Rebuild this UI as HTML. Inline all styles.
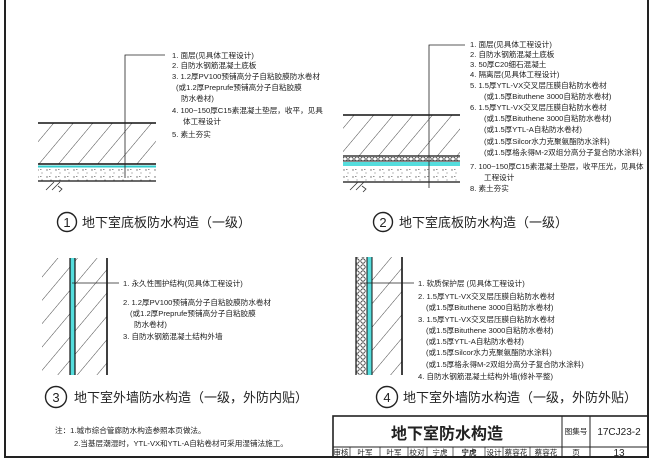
<!DOCTYPE html>
<html><head><meta charset="utf-8">
<style>
html,body{margin:0;padding:0;background:#fff;}
svg{display:block;}
text{font-family:"Liberation Sans","Noto Sans CJK SC",sans-serif;fill:#222;}
.s{font-size:7.6px;}
.t{font-size:13px;font-weight:normal;}
</style></head><body>
<svg width="654" height="465" viewBox="0 0 654 465" xmlns="http://www.w3.org/2000/svg">
<defs>
<pattern id="hatch" width="15" height="15" patternUnits="userSpaceOnUse" patternTransform="rotate(40)">
<line x1="0" y1="0" x2="0" y2="15" stroke="#333" stroke-width="0.9"/>
</pattern>
<pattern id="dots" width="9" height="7" patternUnits="userSpaceOnUse">
<circle cx="2" cy="2" r="0.7" fill="#666"/><circle cx="6" cy="5" r="0.6" fill="#888"/><rect x="4" y="1" width="1.5" height="0.8" fill="#777"/>
</pattern>
<pattern id="circ" width="6" height="6" patternUnits="userSpaceOnUse">
<circle cx="3" cy="3" r="2.2" fill="none" stroke="#333" stroke-width="0.8"/>
</pattern>
</defs>
<rect x="5" y="-2" width="643" height="459" fill="none" stroke="#222" stroke-width="2"/>

<!-- Diagram 1 -->
<rect x="38" y="123" width="118" height="41" fill="url(#hatch)"/>
<rect x="38" y="166" width="118" height="15" fill="url(#dots)"/>
<line x1="38" y1="123" x2="156" y2="123" stroke="#111" stroke-width="1.6"/>
<line x1="38" y1="164" x2="156" y2="164" stroke="#111" stroke-width="1.6"/>
<line x1="38" y1="166.5" x2="156" y2="166.5" stroke="#3cc" stroke-width="2"/>
<line x1="38" y1="181" x2="156" y2="181" stroke="#111" stroke-width="1.2"/>
<path d="M46 190 l8 -8 M52 190 l8 -8 M58 186 l4 3 l-3 3" stroke="#333" fill="none" stroke-width="0.8"/>
<polyline points="125,178 125,55 165,55" fill="none" stroke="#222" stroke-width="0.8"/>
<text class="s" x="172" y="58">1. 面层(见具体工程设计)</text>
<text class="s" x="172" y="68">2. 自防水钢筋混凝土底板</text>
<text class="s" x="172" y="79">3. 1.2厚PV100预铺高分子自粘胶膜防水卷材</text>
<text class="s" x="176" y="90">(或1.2厚Preprufe预铺高分子自粘胶膜</text>
<text class="s" x="181" y="101">防水卷材)</text>
<text class="s" x="172" y="113">4. 100~150厚C15素混凝土垫层，收平，见具</text>
<text class="s" x="183" y="124">体工程设计</text>
<text class="s" x="172" y="137">5. 素土夯实</text>
<circle cx="67" cy="222" r="9.5" fill="none" stroke="#222" stroke-width="1.4"/>
<text x="67" y="227" font-size="13" text-anchor="middle">1</text>
<text class="t" x="82" y="227">地下室底板防水构造（一级）</text>

<!-- Diagram 2 -->
<rect x="343" y="115" width="117" height="41" fill="url(#hatch)"/>
<rect x="343" y="157" width="117" height="4" fill="url(#circ)"/>
<rect x="343" y="162" width="117" height="4" fill="#5dd"/>
<rect x="343" y="167" width="117" height="15" fill="url(#dots)"/>
<line x1="343" y1="115" x2="460" y2="115" stroke="#111" stroke-width="1.6"/>
<line x1="343" y1="156" x2="460" y2="156" stroke="#111" stroke-width="1.3"/>
<line x1="343" y1="161" x2="460" y2="161" stroke="#111" stroke-width="1"/>
<line x1="343" y1="182" x2="460" y2="182" stroke="#111" stroke-width="1.2"/>
<path d="M350 190 l8 -8 M356 190 l8 -8 M362 186 l4 3 l-3 3" stroke="#333" fill="none" stroke-width="0.8"/>
<polyline points="429,188 429,45 465,45" fill="none" stroke="#222" stroke-width="0.8"/>
<text class="s" x="470" y="47">1. 面层(见具体工程设计)</text>
<text class="s" x="470" y="57">2. 自防水钢筋混凝土底板</text>
<text class="s" x="470" y="67">3. 50厚C20细石混凝土</text>
<text class="s" x="470" y="77">4. 隔离层(见具体工程设计)</text>
<text class="s" x="470" y="88">5. 1.5厚YTL-VX交叉层压膜自粘防水卷材</text>
<text class="s" x="484" y="99">(或1.5厚Bituthene 3000自粘防水卷材)</text>
<text class="s" x="470" y="110">6. 1.5厚YTL-VX交叉层压膜自粘防水卷材</text>
<text class="s" x="484" y="121">(或1.5厚Bituthene 3000自粘防水卷材)</text>
<text class="s" x="484" y="132">(或1.5厚YTL-A自粘防水卷材)</text>
<text class="s" x="484" y="144">(或1.5厚Silcor水力克聚氨酯防水涂料)</text>
<text class="s" x="484" y="155">(或1.5厚格永得M-2双组分高分子复合防水涂料)</text>
<text class="s" x="470" y="169">7. 100~150厚C15素混凝土垫层，收平压光，见具体</text>
<text class="s" x="484" y="180">工程设计</text>
<text class="s" x="470" y="191">8. 素土夯实</text>
<circle cx="383" cy="222" r="9.5" fill="none" stroke="#222" stroke-width="1.4"/>
<text x="383" y="227" font-size="13" text-anchor="middle">2</text>
<text class="t" x="399" y="227">地下室底板防水构造（一级）</text>

<!-- Diagram 3 -->
<rect x="42" y="258" width="28" height="117" fill="url(#hatch)"/>
<rect x="75" y="258" width="32" height="117" fill="url(#hatch)"/>
<rect x="70" y="258" width="5" height="117" fill="#5dd"/>
<line x1="70" y1="258" x2="70" y2="375" stroke="#111" stroke-width="1.2"/>
<line x1="75" y1="258" x2="75" y2="375" stroke="#111" stroke-width="1.2"/>
<line x1="107" y1="258" x2="107" y2="375" stroke="#111" stroke-width="1.6"/>
<line x1="72" y1="283" x2="119" y2="283" stroke="#222" stroke-width="0.8"/>
<text class="s" x="123" y="286">1. 永久性围护结构(见具体工程设计)</text>
<text class="s" x="123" y="305">2. 1.2厚PV100预铺高分子自粘胶膜防水卷材</text>
<text class="s" x="130" y="316">(或1.2厚Preprufe预铺高分子自粘胶膜</text>
<text class="s" x="134" y="327">防水卷材)</text>
<text class="s" x="123" y="339">3. 自防水钢筋混凝土结构外墙</text>
<circle cx="56" cy="397" r="10.5" fill="none" stroke="#222" stroke-width="1.4"/>
<text x="56" y="402" font-size="13" text-anchor="middle">3</text>
<text class="t" x="74" y="402">地下室外墙防水构造（一级，外防内贴）</text>
<text class="s" x="55" y="433">注：1.城市综合管廊防水构造参照本页做法。</text>
<text class="s" x="74" y="446">2.当基层潮湿时，YTL-VX和YTL-A自粘卷材可采用湿铺法施工。</text>

<!-- Diagram 4 -->
<rect x="356" y="257" width="11" height="118" fill="url(#circ)"/>
<rect x="367" y="257" width="5" height="118" fill="#5dd"/>
<rect x="372" y="257" width="30" height="118" fill="url(#hatch)"/>
<line x1="356" y1="257" x2="356" y2="375" stroke="#111" stroke-width="1.2"/>
<line x1="367" y1="257" x2="367" y2="375" stroke="#111" stroke-width="1"/>
<line x1="372" y1="257" x2="372" y2="375" stroke="#111" stroke-width="1"/>
<line x1="402" y1="257" x2="402" y2="375" stroke="#111" stroke-width="1.6"/>
<line x1="360" y1="283" x2="414" y2="283" stroke="#222" stroke-width="0.8"/>
<text class="s" x="418" y="286">1. 软质保护层 (见具体工程设计)</text>
<text class="s" x="418" y="299">2. 1.5厚YTL-VX交叉层压膜自粘防水卷材</text>
<text class="s" x="426" y="310">(或1.5厚Bituthene 3000自粘防水卷材)</text>
<text class="s" x="418" y="322">3. 1.5厚YTL-VX交叉层压膜自粘防水卷材</text>
<text class="s" x="426" y="333">(或1.5厚Bituthene 3000自粘防水卷材)</text>
<text class="s" x="426" y="344">(或1.5厚YTL-A自粘防水卷材)</text>
<text class="s" x="426" y="355">(或1.5厚Silcor水力克聚氨酯防水涂料)</text>
<text class="s" x="426" y="367">(或1.5厚格永得M-2双组分高分子复合防水涂料)</text>
<text class="s" x="418" y="379">4. 自防水钢筋混凝土结构外墙(修补平整)</text>
<circle cx="387" cy="397" r="10.5" fill="none" stroke="#222" stroke-width="1.4"/>
<text x="387" y="402" font-size="13" text-anchor="middle">4</text>
<text class="t" x="403" y="402">地下室外墙防水构造（一级，外防外贴）</text>

<!-- Title block -->
<g stroke="#222" fill="none">
<rect x="333" y="416" width="315" height="41" stroke-width="1.6"/>
<line x1="333" y1="447" x2="648" y2="447" stroke-width="1"/>
<line x1="562" y1="416" x2="562" y2="457"/>
<line x1="590" y1="416" x2="590" y2="457"/>
<g stroke-width="0.7">
<line x1="350" y1="447" x2="350" y2="457"/><line x1="380" y1="447" x2="380" y2="457"/>
<line x1="408" y1="447" x2="408" y2="457"/><line x1="427" y1="447" x2="427" y2="457"/>
<line x1="453" y1="447" x2="453" y2="457"/><line x1="485" y1="447" x2="485" y2="457"/>
<line x1="503" y1="447" x2="503" y2="457"/><line x1="530" y1="447" x2="530" y2="457"/>
</g>
</g>
<text x="447" y="439" font-size="16" font-weight="bold" text-anchor="middle">地下室防水构造</text>
<text class="s" x="576" y="434" text-anchor="middle">图集号</text>
<text x="619" y="435" font-size="10" text-anchor="middle">17CJ23-2</text>
<text class="s" x="341" y="455" text-anchor="middle">审核</text>
<text class="s" x="365" y="455" text-anchor="middle">叶军</text>
<text class="s" x="394" y="455" text-anchor="middle" fill="#666">叶军</text>
<text class="s" x="417" y="455" text-anchor="middle">校对</text>
<text class="s" x="440" y="455" text-anchor="middle">宁虎</text>
<text class="s" x="469" y="455" text-anchor="middle" font-weight="bold">宁虎</text>
<text class="s" x="494" y="455" text-anchor="middle">设计</text>
<text class="s" x="516" y="455" text-anchor="middle">蔡容花</text>
<text class="s" x="546" y="455" text-anchor="middle" fill="#666">蔡容花</text>
<text class="s" x="576" y="455" text-anchor="middle">页</text>
<text x="619" y="456" font-size="10" text-anchor="middle">13</text>
</svg>
</body></html>
